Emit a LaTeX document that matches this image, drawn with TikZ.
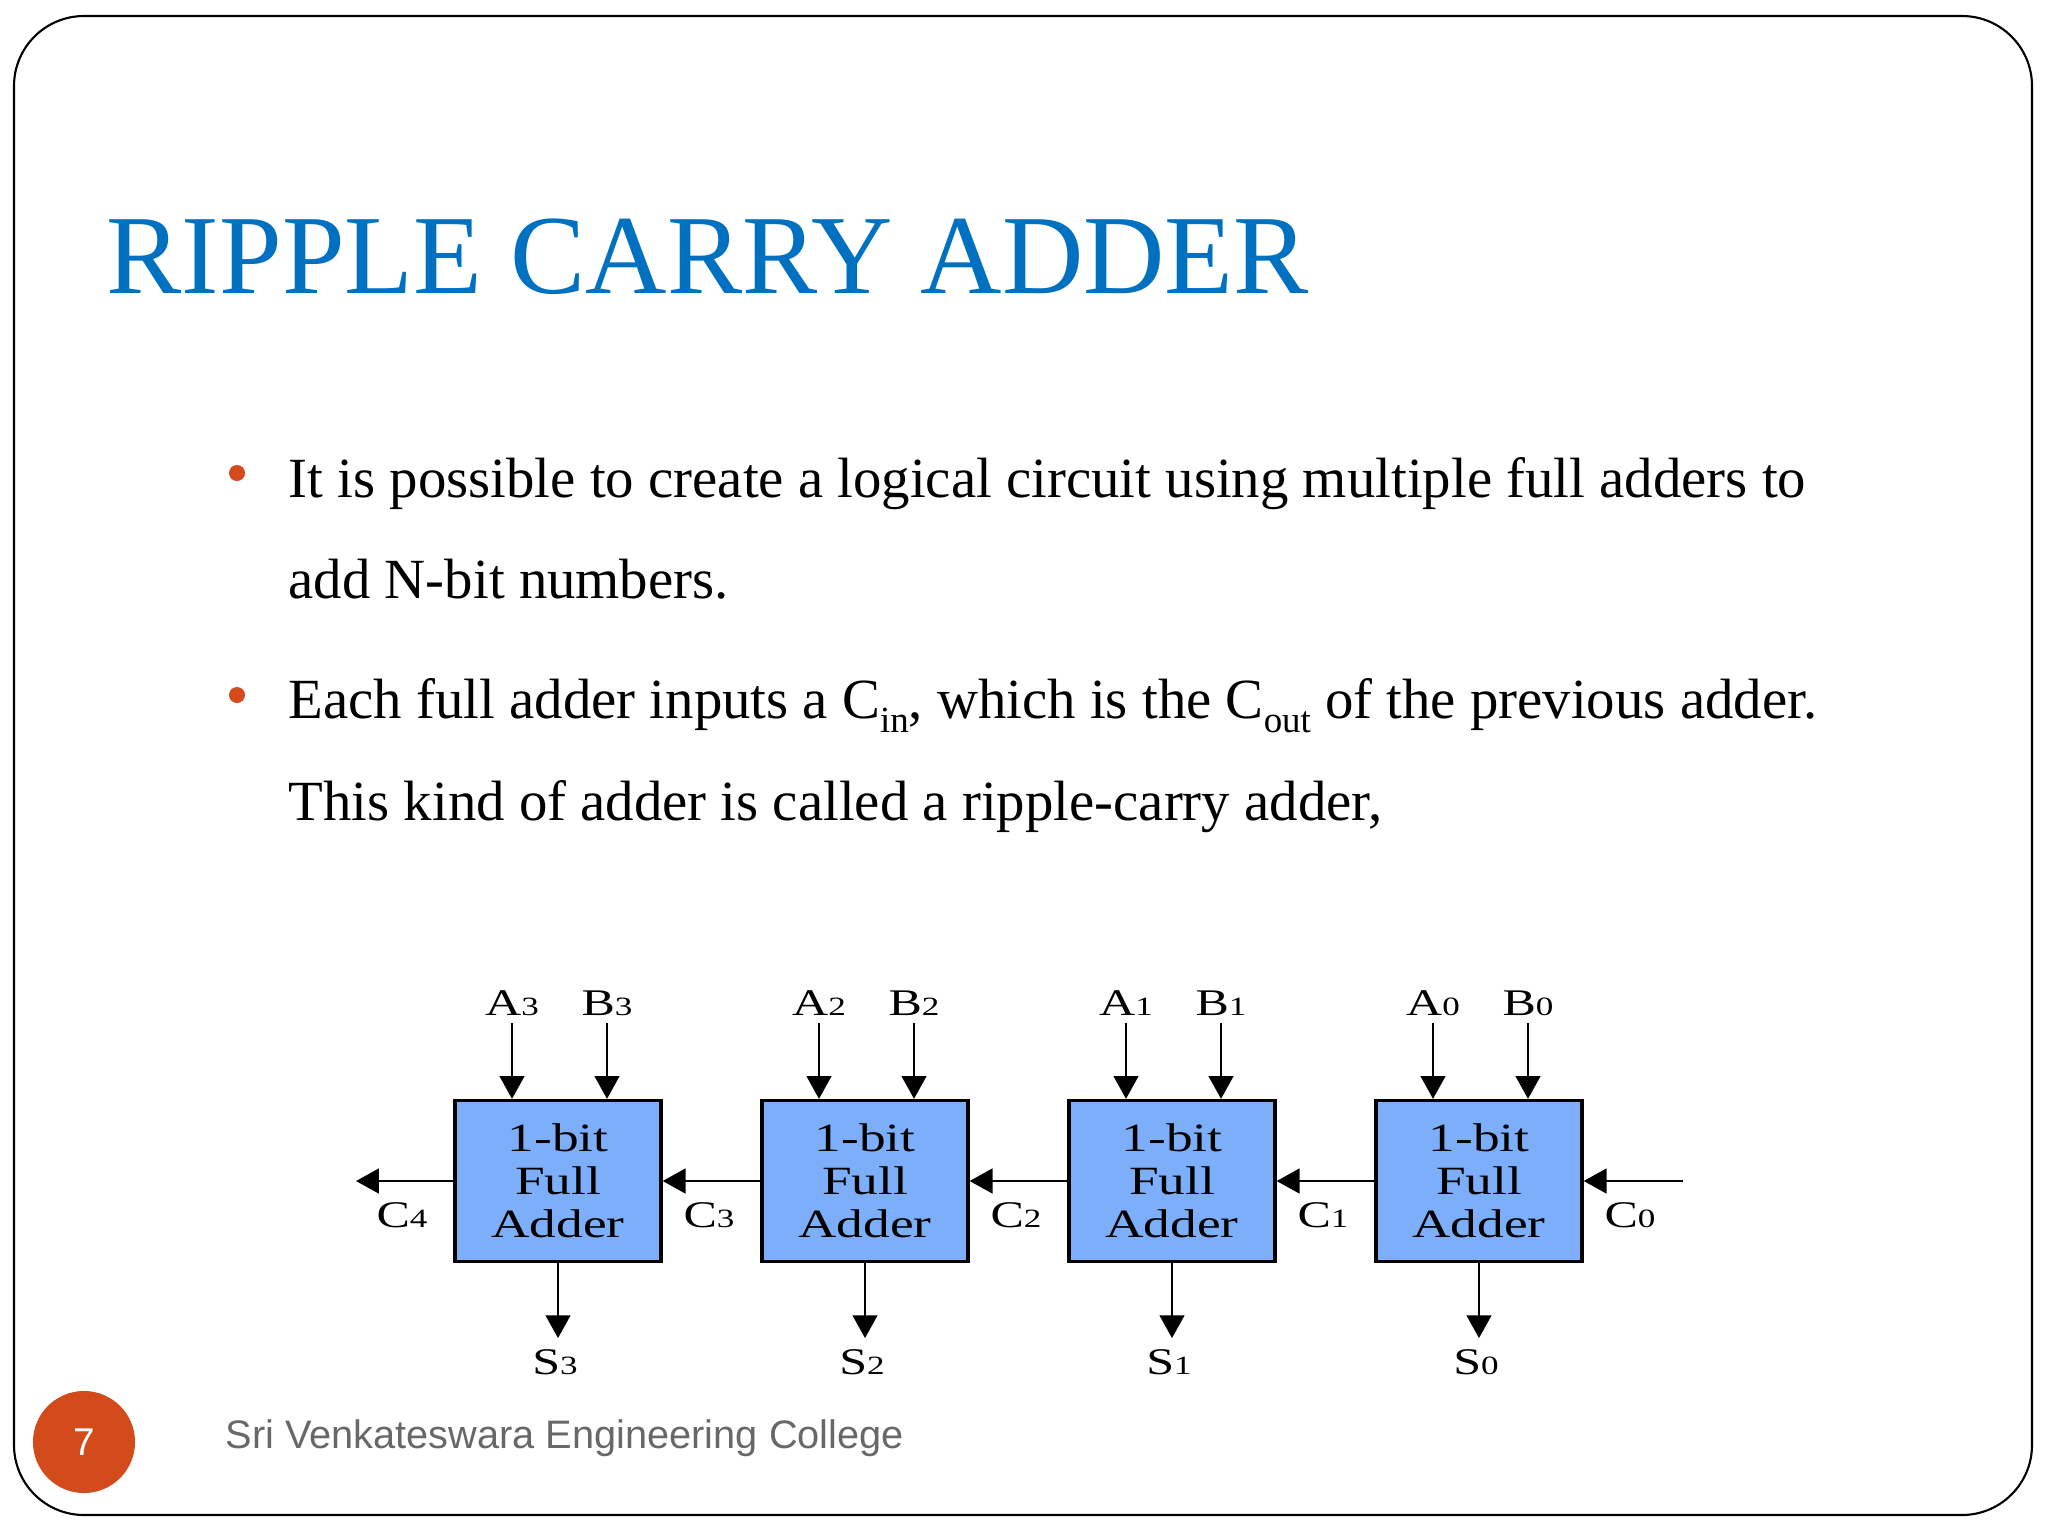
\documentclass[tikz,border=0pt]{standalone}
\usepackage{fontspec}
\setmainfont{Liberation Serif}
\newfontfamily\diagfont[FakeStretch=1.33]{Liberation Serif}
\newfontfamily\footfont{Liberation Sans}
\usetikzlibrary{arrows.meta,positioning}
\definecolor{titleblue}{RGB}{0,112,192}
\definecolor{dotred}{RGB}{211,75,27}
\definecolor{boxblue}{RGB}{125,174,250}
\definecolor{footgray}{RGB}{104,104,104}
\newcommand{\sig}[2]{#1{\fontsize{7.5pt}{9pt}\selectfont #2}}
\newcommand{\lowsub}[1]{\raisebox{-0.25em}{\fontsize{10.5pt}{12pt}\selectfont #1}}
\tikzset{
  fabox/.style={draw, line width=0.9pt, fill=boxblue, minimum width=2.06cm,
    minimum height=1.61cm, inner sep=0pt, align=center,
    font=\diagfont\fontsize{11.4pt}{12.2pt}\selectfont},
  siglbl/.style={inner sep=2pt, font=\diagfont\fontsize{10.7pt}{12pt}\selectfont},
  wire/.style={line width=0.75pt, -{Triangle[length=6.5pt,width=7pt]}},
  body/.style={anchor=base west, inner sep=0pt, font=\fontsize{16.15pt}{19pt}\selectfont},
  dot/.style={circle, fill=dotred, inner sep=0pt, minimum size=0.16cm}
}
\begin{document}
\begin{tikzpicture}[x=0.01cm,y=-0.01cm]
  \useasboundingbox (0,0) rectangle (2048,1536);
  \draw[line width=0.6pt, rounded corners=0.7cm] (14,16) rectangle (2032,1515);

  % title and bullets
  \node[anchor=base west, inner sep=0pt, text=titleblue,
    font=\fontsize{32.05pt}{38pt}\selectfont] (title) at (106,293) {RIPPLE CARRY ADDER};
  \node[dot] (dot1) at (237,473) {};
  \node[body] (l1) at (288,497) {It is possible to create a logical circuit using multiple full adders to};
  \node[body] (l2) at (288,598) {add N-bit numbers.};
  \node[dot] (dot2) at (237,695) {};
  \node[body] (l3) at (288,718) {Each full adder inputs a C\lowsub{in}, which is the C\lowsub{out} of the previous adder.};
  \node[body] (l4) at (288,820) {This kind of adder is called a ripple-carry adder,};

  % the four adders
  \node[fabox] (fa3) at (558,1181) {1-bit\\Full\\Adder};
  \node[fabox] (fa2) at (865,1181) {1-bit\\Full\\Adder};
  \node[fabox] (fa1) at (1172,1181) {1-bit\\Full\\Adder};
  \node[fabox] (fa0) at (1479,1181) {1-bit\\Full\\Adder};

  % inputs
  \node[siglbl] (a3) at (512,1003) {\sig{A}{3}};
  \node[siglbl] (b3) at (607,1003) {\sig{B}{3}};
  \node[siglbl] (a2) at (819,1003) {\sig{A}{2}};
  \node[siglbl] (b2) at (914,1003) {\sig{B}{2}};
  \node[siglbl] (a1) at (1126,1003) {\sig{A}{1}};
  \node[siglbl] (b1) at (1221,1003) {\sig{B}{1}};
  \node[siglbl] (a0) at (1433,1003) {\sig{A}{0}};
  \node[siglbl] (b0) at (1528,1003) {\sig{B}{0}};
  \draw[wire] (a3) -- (a3 |- fa3.north);
  \draw[wire] (b3) -- (b3 |- fa3.north);
  \draw[wire] (a2) -- (a2 |- fa2.north);
  \draw[wire] (b2) -- (b2 |- fa2.north);
  \draw[wire] (a1) -- (a1 |- fa1.north);
  \draw[wire] (b1) -- (b1 |- fa1.north);
  \draw[wire] (a0) -- (a0 |- fa0.north);
  \draw[wire] (b0) -- (b0 |- fa0.north);

  % sums
  \node[siglbl, inner sep=3pt] (s3) at (555,1362) {\sig{S}{3}};
  \node[siglbl, inner sep=3pt] (s2) at (862,1362) {\sig{S}{2}};
  \node[siglbl, inner sep=3pt] (s1) at (1169,1362) {\sig{S}{1}};
  \node[siglbl, inner sep=3pt] (s0) at (1476,1362) {\sig{S}{0}};
  \draw[wire] (fa3) -- (fa3 |- s3.north);
  \draw[wire] (fa2) -- (fa2 |- s2.north);
  \draw[wire] (fa1) -- (fa1 |- s1.north);
  \draw[wire] (fa0) -- (fa0 |- s0.north);

  % carries
  \coordinate (cout) at (356,1181);
  \coordinate (cin) at (1683,1181);
  \draw[wire] (fa3) -- (cout);
  \draw[wire] (fa2) -- (fa3);
  \draw[wire] (fa1) -- (fa2);
  \draw[wire] (fa0) -- (fa1);
  \draw[wire] (cin) -- (fa0);
  \node[siglbl] (c4) at (402,1215) {\sig{C}{4}};
  \node[siglbl] (c3) at (709,1215) {\sig{C}{3}};
  \node[siglbl] (c2) at (1016,1215) {\sig{C}{2}};
  \node[siglbl] (c1) at (1323,1215) {\sig{C}{1}};
  \node[siglbl] (c0) at (1630,1215) {\sig{C}{0}};

  % footer
  \node[circle, fill=dotred, minimum size=1.02cm, inner sep=0pt, text=white,
    font=\footfont\fontsize{11pt}{13pt}\selectfont] (pg) at (84,1442) {7};
  \node[anchor=base west, inner sep=0pt, text=footgray,
    font=\footfont\fontsize{11.3pt}{13pt}\selectfont] (college) at (225,1448) {Sri Venkateswara Engineering College};
\end{tikzpicture}
\end{document}
